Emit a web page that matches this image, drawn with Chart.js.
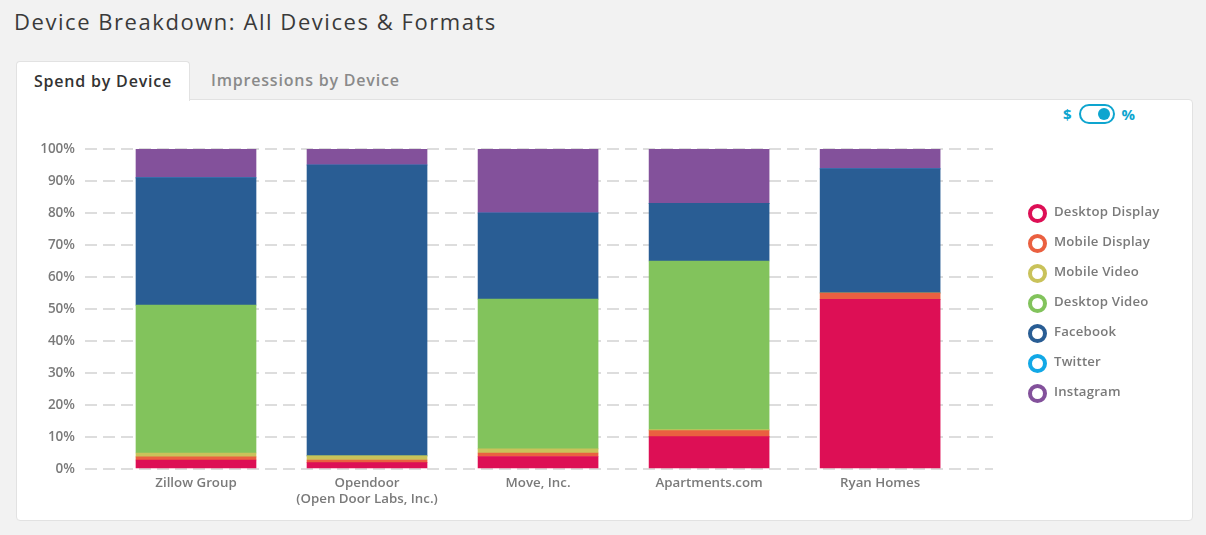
<!DOCTYPE html>
<html>
<head>
<meta charset="utf-8">
<script src="https://cdn.jsdelivr.net/npm/chart.js@4"></script>
<style>
  html, body { margin: 0; padding: 0; }
  body {
    width: 1206px; height: 535px; background: #f2f2f2; position: relative; overflow: hidden;
    font-family: "Open Sans", Lato, sans-serif;
  }
  .title { position: absolute; left: 14px; top: 6px; font-size: 22px; color: #3a3a3a; letter-spacing: 1.55px; }
  .tab { position: absolute; top: 61px; height: 39px; line-height: 39px; font-size: 16px; font-weight: 600; letter-spacing: 0.8px; }
  .tab.active { left: 16px; width: 172px; background: #fff; border: 1px solid #e2e2e2; border-bottom: none;
                border-radius: 4px 4px 0 0; color: #333; text-align: center; z-index: 2; }
  .tab.idle { left: 211px; color: #8a8a8a; }
  .card { position: absolute; left: 16px; top: 99px; width: 1175px; height: 420px; background: #fff;
          border: 1px solid #e2e2e2; border-radius: 0 4px 4px 4px; }
  .toggle { position: absolute; left: 1063px; top: 104px; height: 20px; display: flex; align-items: center;
            color: #0ea5cf; font-weight: 700; font-size: 15px; }
  .pill { width: 32px; height: 16px; border: 2px solid #0ea5cf; border-radius: 11px; margin: 0 7px; position: relative; }
  .pill::after { content: ""; position: absolute; right: 3px; top: 2px; width: 12px; height: 12px; border-radius: 50%; background: #0ea5cf; }
  canvas#chart { position: absolute; left: 16px; top: 101px; }
  .legend { position: absolute; left: 1028px; top: 204px; }
  .legend div { height: 30px; display: flex; align-items: flex-start; font-size: 13.2px; font-weight: 600; color: #7a7a7a; letter-spacing: 0.2px; }
  .legend span.dot { width: 11px; height: 11px; border-radius: 50%; border: 4px solid; margin-right: 7px; box-sizing: content-box; margin-top: 0px; }
  .legend span.txt { line-height: 19px; margin-top: -2px; }
</style>
</head>
<body>
<div class="title">Device Breakdown: All Devices &amp; Formats</div>
<div class="tab active">Spend by Device</div>
<div class="tab idle">Impressions by Device</div>
<div class="card"></div>
<div class="toggle">$<span class="pill"></span>%</div>
<canvas id="chart" width="1177" height="418"></canvas>
<div class="legend" id="legend"></div>

<script>
// ---- Daten ----
const advertisers = ['Zillow Group', ['Opendoor', '(Open Door Labs, Inc.)'], 'Move, Inc.', 'Apartments.com', 'Ryan Homes'];
const seriesNames = ['Desktop Display', 'Mobile Display', 'Mobile Video', 'Desktop Video', 'Facebook', 'Twitter', 'Instagram'];
const seriesColors = ['#dd0f55', '#ea6040', '#c9c25a', '#82c35c', '#295d94', '#12a8e6', '#83519b'];

const desktopDisplay = [2.8, 2.0, 3.9, 10.1, 53.0];
const mobileDisplay  = [1.0, 0.8, 1.1, 1.9, 2.0];
const mobileVideo    = [1.2, 1.3, 1.3, 0.3, 0.0];
const desktopVideo   = [46.2, 0.0, 46.8, 52.7, 0.0];
const facebook       = [39.8, 90.9, 26.9, 18.0, 38.8];
const twitter        = [0, 0, 0, 0, 0];
const instagram      = [9.0, 5.0, 20.0, 17.0, 6.2];

const yTicks = [0, 10, 20, 30, 40, 50, 60, 70, 80, 90, 100];

const seriesValues = [desktopDisplay, mobileDisplay, mobileVideo, desktopVideo, facebook, twitter, instagram];

// ---- Legende (HTML) ----
const $legend = document.getElementById('legend');
seriesNames.forEach((name, i) => {
  const row = document.createElement('div');
  row.innerHTML = `<span class="dot" style="border-color:${seriesColors[i]}"></span><span class="txt">${name}</span>`;
  $legend.appendChild(row);
});

// ---- Chart ----
const datasets = seriesNames.map((name, i) => ({
  label: name,
  data: seriesValues[i].map((v, idx) => ({ x: idx, y: v })),
  backgroundColor: seriesColors[i],
  borderWidth: 0,
  barThickness: 120
}));

const TICK_FONT = { family: '"Open Sans", Lato, sans-serif', size: 13.3, weight: '600' };

new Chart(document.getElementById('chart'), {
  type: 'bar',
  data: { datasets },
  options: {
    responsive: false,
    animation: false,
    layout: { padding: { top: 48, right: 200, left: 0, bottom: 0 } },
    plugins: { legend: { display: false }, tooltip: { enabled: false } },
    scales: {
      x: {
        type: 'linear',
        stacked: true,
        offset: false,
        min: -0.649,
        max: 4.66,
        grid: { display: false, drawTicks: false },
        border: { display: false },
        afterFit: s => { s.height = 50; },
        ticks: {
          stepSize: 1,
          includeBounds: false,
          autoSkip: false,
          maxRotation: 0,
          padding: 6,
          color: '#7a7a7a',
          font: TICK_FONT,
          callback: v => Number.isInteger(v) && advertisers[v] !== undefined ? advertisers[v] : ''
        }
      },
      y: {
        stacked: true,
        min: 0,
        max: 100,
        afterFit: s => { s.width = 69; },
        afterBuildTicks: s => { s.ticks = yTicks.map(v => ({ value: v })); },
        grid: { color: '#dddddd', lineWidth: 2, drawTicks: false },
        border: { display: false, dash: [12, 6] },
        ticks: {
          padding: 10,
          color: '#7a7a7a',
          font: { ...TICK_FONT, size: 13.5 },
          callback: v => v + '%'
        }
      }
    }
  }
});
</script>
</body>
</html>
